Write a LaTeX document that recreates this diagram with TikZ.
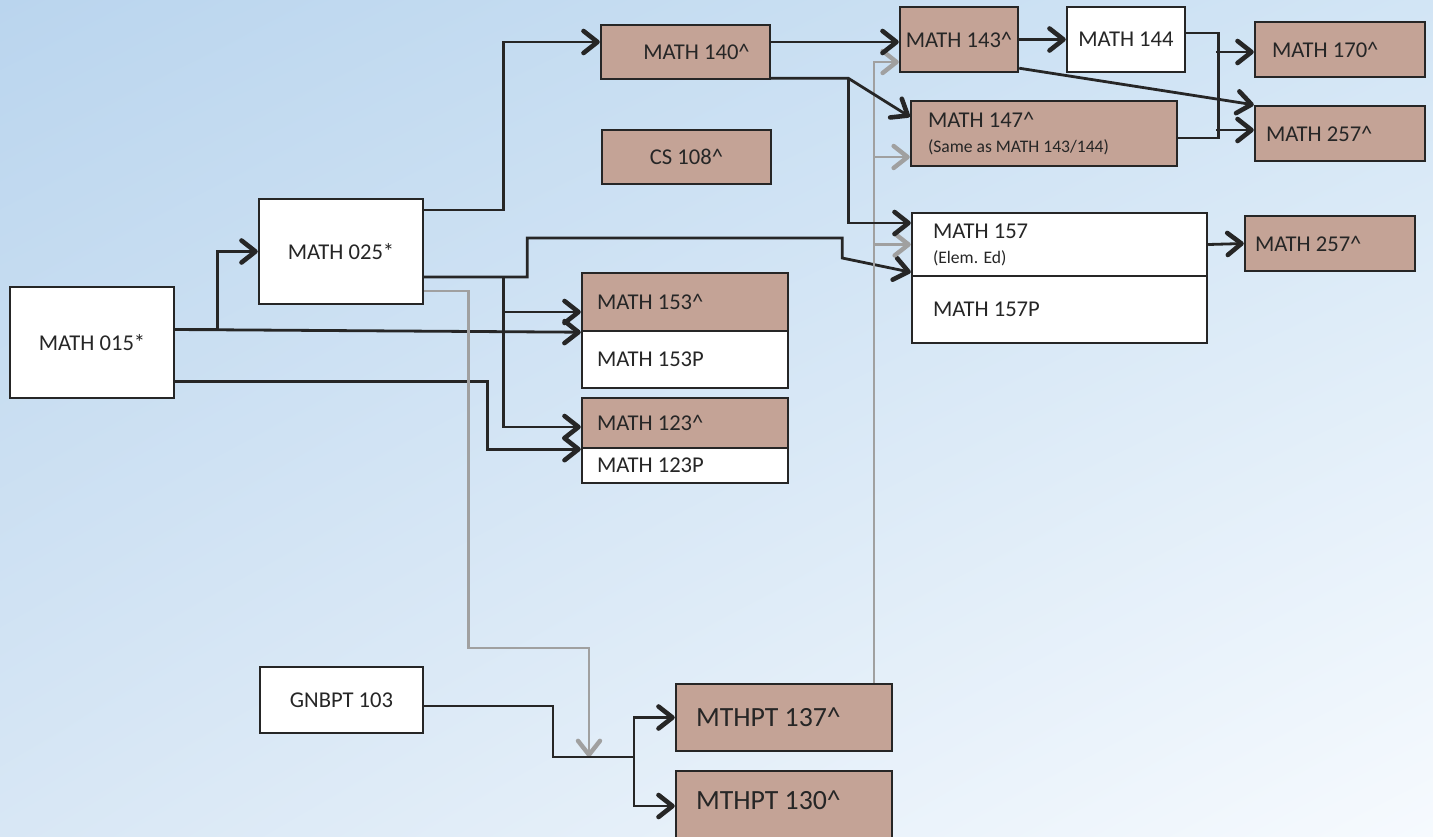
\documentclass[tikz,border=0pt]{standalone}
\usepackage{fontspec}
\setmainfont{Carlito}
\usetikzlibrary{arrows.meta,calc,positioning,shadings}

\definecolor{bgtl}{HTML}{BAD5EE}
\definecolor{bgtr}{HTML}{D2E5F5}
\definecolor{bgbl}{HTML}{D8E7F5}
\definecolor{bgbr}{HTML}{F6FAFE}
\definecolor{crsbrown}{HTML}{C4A396}
\definecolor{txtgray}{HTML}{262626}
\definecolor{lnkgray}{HTML}{A0A0A0}

\newcommand{\smallfnt}{\fontsize{8.8}{12.5}\selectfont}

\tikzset{
  crs/.style={draw=txtgray, line width=1.2pt, fill=white, text=txtgray,
              inner sep=0pt, font=\fontsize{11.3}{12.5}\selectfont},
  brn/.style={crs, fill=crsbrown},
  bigtxt/.style={font=\fontsize{13.9}{16}\selectfont},
  lft/.style 2 args={align=flush left, inner xsep=#1, text width=#2},
  blk/.style={draw=txtgray, line width=1.4pt, ->},
  gry/.style={draw=lnkgray, line width=1.3pt, ->},
  >={Straight Barb[length=7pt,width=11pt,line width=0.9pt 1,round]}
}

\begin{document}
\begin{tikzpicture}[x=0.5pt,y=-0.5pt]
%
  \useasboundingbox (0,0) rectangle (1433,836);
  \clip (0,0) rectangle (1433,836);
  \shade[upper left=bgtl, upper right=bgtr, lower left=bgbl, lower right=bgbr]
    (0,0) rectangle (1433,836);
%
  \node[crs, minimum width=82pt, minimum height=55.5pt] (m015) at (92,342.5) {MATH 015*};
  \node[crs, minimum width=82pt, minimum height=52.5pt] (m025) at (341,251.5) {MATH 025*};
  \node[brn, minimum width=84.5pt, minimum height=27pt] (m140) at (685.5,52) {\hspace*{11pt}MATH 140\textasciicircum};
  \node[brn, minimum width=84.5pt, minimum height=27pt] (cs108) at (686.5,157) {CS 108\textasciicircum};
  \node[brn, minimum width=59pt, minimum height=32.5pt] (m143) at (959,39.5) {MATH 143\textasciicircum};
  \node[crs, minimum width=59pt, minimum height=32.5pt] (m144) at (1126,39.5) {MATH 144};
  \node[brn, lft={8.5pt}{68pt}, minimum height=27.5pt] (m170) at (1340,49.5) {MATH 170\textasciicircum};
  \node[brn, lft={5.5pt}{74pt}, minimum height=27.5pt] (m257a) at (1340,133.5) {MATH 257\textasciicircum};
  \node[brn, lft={8.5pt}{116pt}, minimum height=32.5pt] (m147) at (1044,133.5)
    {MATH 147\textasciicircum\\\smallfnt (Same as MATH 143/144)};
  \node[crs, lft={10.5pt}{126.5pt}, minimum height=31.5pt] (m157) at (1059.5,244.5)
    {MATH 157\\\smallfnt (Elem. Ed)};
  \node[crs, lft={10.5pt}{126.5pt}, minimum height=33.5pt] (m157p) at (1059.5,309.5) {MATH 157P};
  \node[brn, lft={5pt}{75pt}, minimum height=27.5pt] (m257b) at (1330,243.5) {MATH 257\textasciicircum};
  \node[brn, lft={7.5pt}{88pt}, minimum height=29pt] (m153) at (685,302) {MATH 153\textasciicircum};
  \node[crs, lft={7.5pt}{88pt}, minimum height=28.5pt] (m153p) at (685,359.5) {MATH 153P};
  \node[brn, lft={7.5pt}{88pt}, minimum height=25pt] (m123) at (685,423) {MATH 123\textasciicircum};
  \node[crs, lft={7.5pt}{88pt}, minimum height=17.5pt] (m123p) at (685,465.5) {MATH 123P};
  \node[crs, minimum width=81.5pt, minimum height=33pt] (gn103) at (341.5,700) {GNBPT 103};
  \node[brn, bigtxt, lft={10pt}{88pt}, minimum height=33.5pt] (pt137) at (784,717.5) {MTHPT 137\textasciicircum};
  \node[brn, bigtxt, lft={10pt}{88pt}, minimum height=35pt, text depth=6pt] (pt130) at (784,806) {MTHPT 130\textasciicircum};
%
  \coordinate (jn) at (589,757);
  \coordinate (fork) at (634,757);
%
  % from MATH 015* and MATH 025*
  \draw[blk] ($(m015.east)+(0,-13)$) -- ++(42,0) |- (m025.west);
  \draw[blk] ($(m015.east)+(0,-13)$) -- (m153.south west);
  \draw[blk] ($(m015.east)+(0,39)$) -- ++(312,0) |- (m123.south west);
  \draw[blk] ($(m025.east)+(0,-41.5)$) -- ++(79,0) |- ($(m140.west)+(0,-10)$);
  \draw[blk] ($(m025.east)+(0,25.5)$) -- ++(103,0) -- ++(0,-39) -- ++(315,0) -- ++(0,20)
    -- ($(m157.south west)+(0,-5)$);
  \draw[blk] ($(m025.east)+(79,25.5)$) |- ($(m153.west)+(0,10)$);
  \draw[blk] ($(m025.east)+(79,25.5)$) |- ($(m123.west)+(0,4)$);
  \draw[gry] ($(m025.east)+(0,39.5)$) -- ++(44,0) |- ($(jn)+(0,-109)$) -- (jn);
%
  % pathway courses
  \draw[blk,-] ($(gn103.east)+(0,6)$) -| ($(jn)+(-36,0)$) -- (fork);
  \draw[blk] (fork) |- (pt137.west);
  \draw[blk] (fork) |- (pt130.west);
  \draw[gry] ($(pt137.north)+(90,0)$) |- ($(m143.west)+(0,22.5)$);
  \draw[gry] ($(pt137.north)+(90,0)$) |- ($(m147.west)+(0,23.5)$);
  \draw[gry] ($(pt137.north)+(90,0)$) |- (m157.west);
%
  % upper sequence
  \draw[blk] ($(m140.east)+(0,-10)$) -- ($(m143.west)+(0,2.5)$);
  \draw[blk] ($(m140.south east)+(0,-2)$) -- ++(77,0) -- ($(m147.north west)+(0,17)$);
  \draw[blk] ($(m140.south east)+(77,-2)$) |- ($(m157.west)+(0,-21.5)$);
  \draw[blk] (m143.east) -- (m144.west);
  \draw[blk] ($(m143.south east)+(0,-5)$) -- (m257a.north west);
  \draw[blk,-] ($(m144.east)+(0,-6.5)$) -| ($(m147.east)+(40,4.5)$) -- ($(m147.east)+(0,4.5)$);
  \draw[blk] ($(m170.west)+(-38,2.5)$) -- ++(38,0);
  \draw[blk] ($(m257a.west)+(-38,-3.5)$) -- ++(38,0);
  \draw[blk] (m157.east) -- (m257b.west);
%
\end{tikzpicture}
\end{document}
